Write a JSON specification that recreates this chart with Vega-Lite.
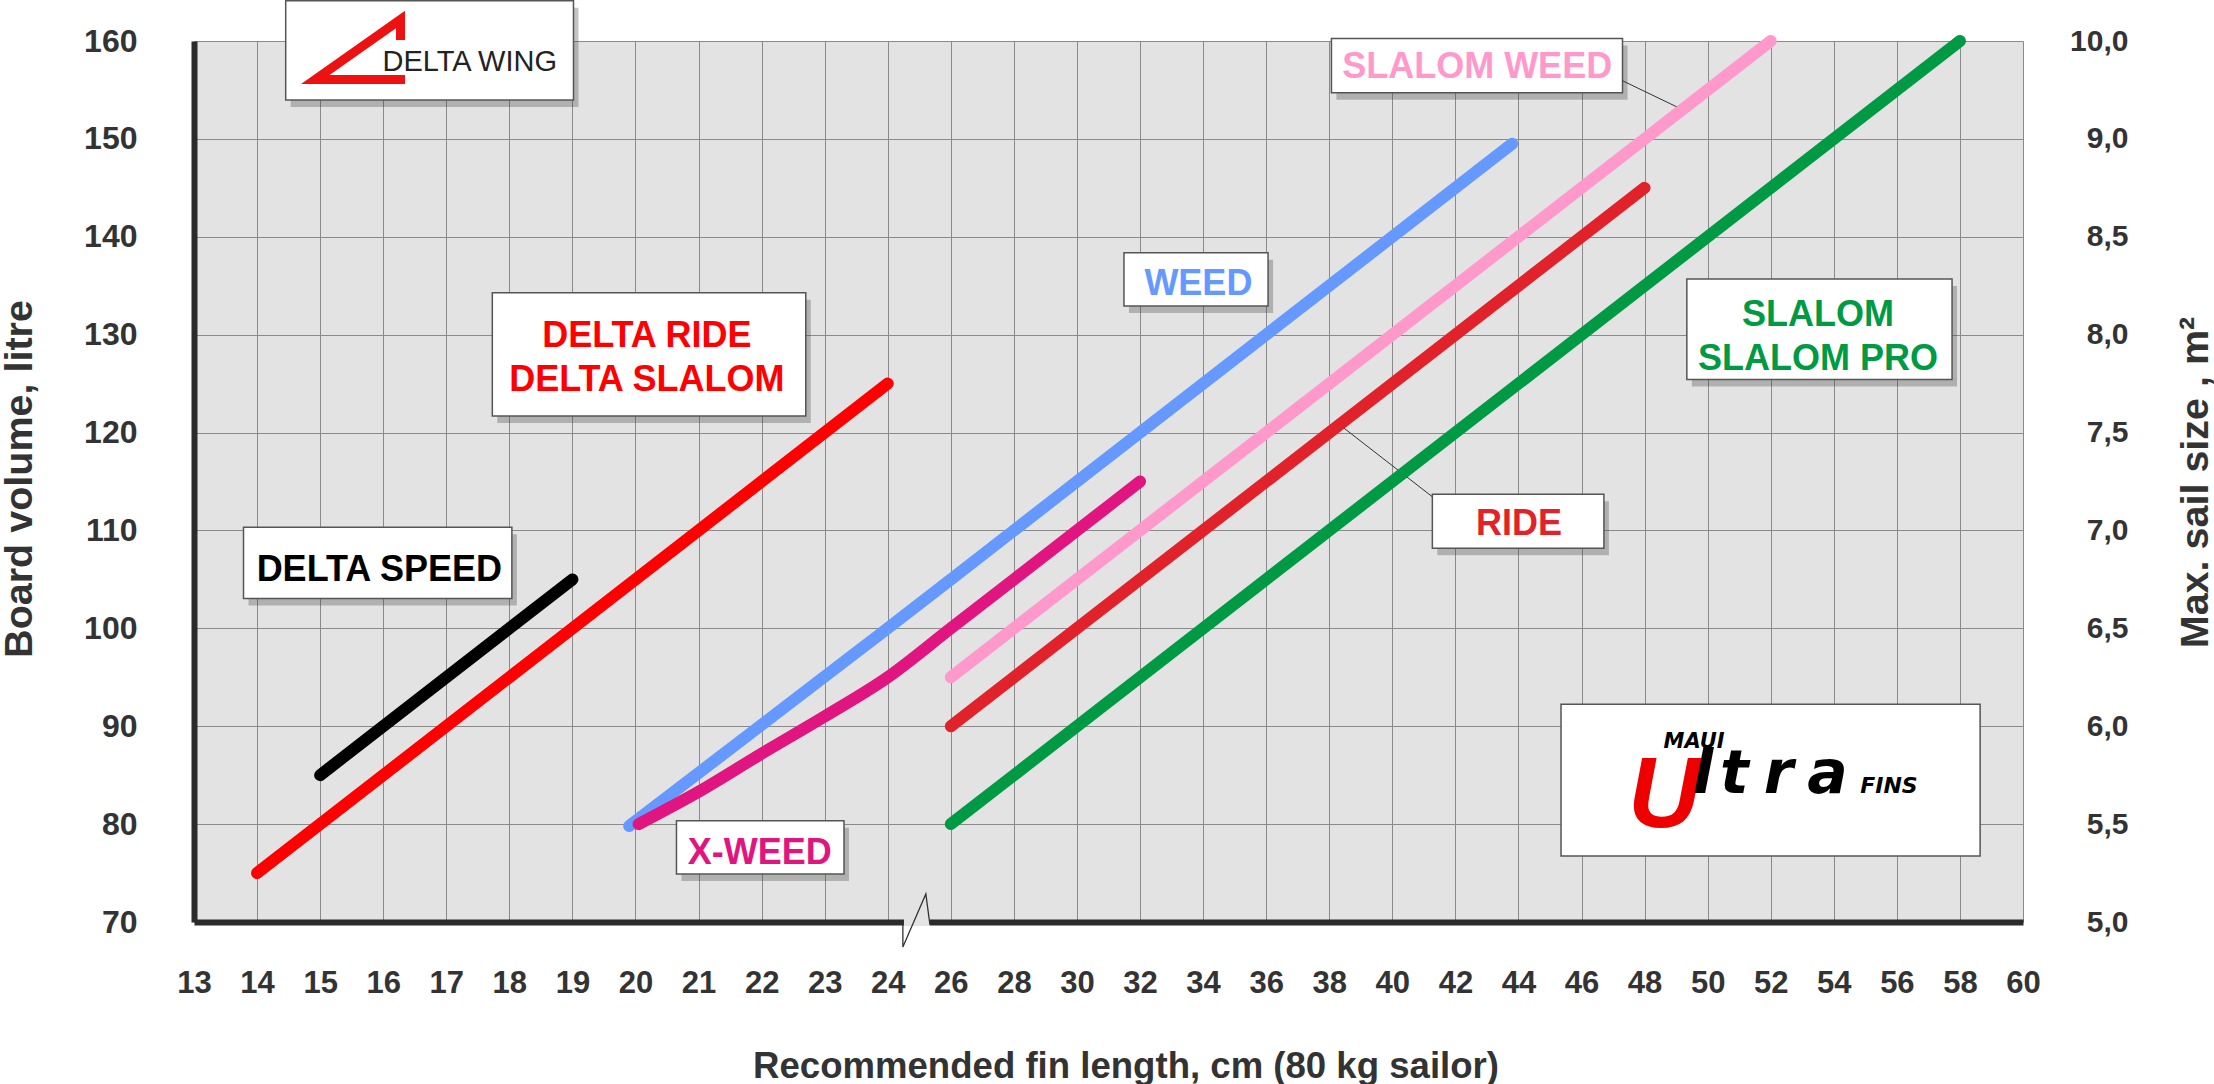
{
 "$schema": "https://vega.github.io/schema/vega-lite/v6.json",
 "width": 1829,
 "height": 881,
 "autosize": {"type": "none"},
 "padding": {"left": 194, "top": 41, "right": 191, "bottom": 162},
 "background": "white",
 "config": {"view": {"fill": "#e3e3e3", "stroke": null}, "font": "Liberation Sans"},
 "datasets": {
  "lines": [
   {"series": "DELTA SPEED", "fin": 15, "vol": 85}, {"series": "DELTA SPEED", "fin": 19, "vol": 105},
   {"series": "DELTA RIDE", "fin": 14, "vol": 75}, {"series": "DELTA RIDE", "fin": 24, "vol": 125},
   {"series": "WEED", "fin": 19.9, "vol": 79.8}, {"series": "WEED", "fin": 24, "vol": 100}, {"series": "WEED", "fin": 26, "vol": 105}, {"series": "WEED", "fin": 43.8, "vol": 149.5},
   {"series": "X-WEED", "fin": 20.05, "vol": 80}, {"series": "X-WEED", "fin": 21, "vol": 83.3}, {"series": "X-WEED", "fin": 22, "vol": 87.2}, {"series": "X-WEED", "fin": 23, "vol": 91}, {"series": "X-WEED", "fin": 24, "vol": 95}, {"series": "X-WEED", "fin": 26, "vol": 100}, {"series": "X-WEED", "fin": 28, "vol": 105}, {"series": "X-WEED", "fin": 30, "vol": 110}, {"series": "X-WEED", "fin": 32, "vol": 115},
   {"series": "SLALOM WEED", "fin": 26, "vol": 95}, {"series": "SLALOM WEED", "fin": 52, "vol": 160},
   {"series": "RIDE", "fin": 26, "vol": 90}, {"series": "RIDE", "fin": 48, "vol": 145},
   {"series": "SLALOM", "fin": 26, "vol": 80}, {"series": "SLALOM", "fin": 58, "vol": 160}
  ],
  "boxes": [
   {"name": "DELTA WING", "fin": 14.454, "fin2": 19.017, "vol": 164.1, "vol2": 153.96},
   {"name": "DELTA RIDE", "fin": 17.73, "fin2": 22.7, "vol": 134.28, "vol2": 121.69},
   {"name": "DELTA SPEED", "fin": 13.785, "fin2": 18.04, "vol": 110.32, "vol2": 103.06},
   {"name": "WEED", "fin": 31.49, "fin2": 36.06, "vol": 138.37, "vol2": 132.92},
   {"name": "X-WEED", "fin": 20.65, "fin2": 23.306, "vol": 80.35, "vol2": 74.9},
   {"name": "SLALOM WEED", "fin": 38.07, "fin2": 47.3, "vol": 160.26, "vol2": 154.71},
   {"name": "RIDE", "fin": 41.27, "fin2": 46.71, "vol": 113.69, "vol2": 108.17},
   {"name": "SLALOM", "fin": 49.34, "fin2": 57.75, "vol": 135.68, "vol2": 125.41},
   {"name": "ULTRA", "fin": 45.35, "fin2": 58.64, "vol": 92.24, "vol2": 76.74}
  ],
  "labels": [
   {"series": "DELTA RIDE", "text": "DELTA RIDE", "fin": 20.18, "vol": 128.76},
   {"series": "DELTA RIDE", "text": "DELTA SLALOM", "fin": 20.18, "vol": 124.27},
   {"series": "DELTA SPEED", "text": "DELTA SPEED", "fin": 15.938, "vol": 104.86},
   {"series": "WEED", "text": "WEED", "fin": 33.85, "vol": 134.05},
   {"series": "X-WEED", "text": "X-WEED", "fin": 21.971, "vol": 75.92},
   {"series": "SLALOM WEED", "text": "SLALOM WEED", "fin": 42.69, "vol": 156.18},
   {"series": "RIDE", "text": "RIDE", "fin": 44.02, "vol": 109.53},
   {"series": "SLALOM", "text": "SLALOM", "fin": 53.5, "vol": 130.88},
   {"series": "SLALOM", "text": "SLALOM PRO", "fin": 53.5, "vol": 126.38}
  ],
  "leaders": [
   {"fin": 47.3, "vol": 155.94, "fin2": 49.12, "vol2": 153.12},
   {"fin": 41.27, "vol": 113.44, "fin2": 38.34, "vol2": 120.77}
  ],
  "deltaLogo": [
   {"order": 1, "fin": 16.274, "vol": 160.09},
   {"order": 2, "fin": 16.274, "vol": 162.2},
   {"order": 3, "fin": 14.922, "vol": 156.06},
   {"order": 4, "fin": 16.346, "vol": 156.06}
  ],
  "logoText": [
   {"part": "delta", "text": "DELTA WING", "fin": 17.372, "vol": 156.96},
   {"part": "maui", "text": "MAUI", "fin": 49.57, "vol": 87.77},
   {"part": "u", "text": "U", "fin": 48.62, "vol": 79.7},
   {"part": "ltra", "text": "l", "fin": 49.85, "vol": 83.18},
   {"part": "ltra", "text": "t", "fin": 50.85, "vol": 83.18},
   {"part": "ltra", "text": "r", "fin": 52.25, "vol": 83.18},
   {"part": "ltra", "text": "a", "fin": 53.8, "vol": 83.18},
   {"part": "fins", "text": "FINS", "fin": 55.75, "vol": 83.18}
  ],
  "breakGap": [{"fin": 24.514, "fin2": 25.338, "vol": 70.41, "vol2": 69.59}],
  "breakLine": [
   {"order": 1, "fin": 24.479, "vol": 70.2},
   {"order": 2, "fin": 24.479, "vol": 67.45},
   {"order": 3, "fin": 25.208, "vol": 72.86},
   {"order": 4, "fin": 25.338, "vol": 69.69}
  ]
 },
 "resolve": {"scale": {"x": "independent"}, "axis": {"x": "independent", "y": "independent"}},
 "layer": [
  {
   "mark": {"type": "rule", "opacity": 0},
   "encoding": {
    "x": {"datum": 0, "type": "quantitative", "scale": {"domain": [0, 29], "nice": false, "zero": false},
     "axis": {"orient": "bottom", "values": [0, 1, 2, 3, 4, 5, 6, 7, 8, 9, 10, 11, 12, 13, 14, 15, 16, 17, 18, 19, 20, 21, 22, 23, 24, 25, 26, 27, 28, 29],
      "labelExpr": "datum.value < 12 ? format(datum.value + 13, 'd') : format(26 + (datum.value - 12) * 2, 'd')",
      "title": "Recommended fin length, cm (80 kg sailor)", "titleFontSize": 36.6, "titleFontWeight": "bold", "titleColor": "#333333",
      "titleX": 931.5, "titleY": 155, "titleBaseline": "alphabetic", "titleAlign": "center",
      "labelFontSize": 31, "labelFontWeight": "bold", "labelColor": "#333333", "labelPadding": 46, "labelFlush": false, "labelOverlap": false,
      "ticks": false, "tickSize": 0, "domainColor": "#2b2b2b", "domainWidth": 6, "grid": true, "gridColor": "#8a8a8a", "gridWidth": 1}}
   }
  },
  {
   "data": {"name": "boxes"},
   "transform": [{"filter": "datum.name != 'ULTRA'"}],
   "mark": {"type": "rect", "fill": "#3c3c3c", "opacity": 0.3, "xOffset": 5, "x2Offset": 5, "yOffset": 7, "y2Offset": 7},
   "encoding": {
    "x": {"field": "fin", "type": "quantitative", "scale": {"domain": [13, 24, 26, 60], "range": [0, 693.76, 756.83, 1829], "nice": false, "zero": false}, "axis": null},
    "x2": {"field": "fin2"},
    "y": {"field": "vol", "type": "quantitative", "scale": {"domain": [70, 160], "nice": false, "zero": false}, "axis": null},
    "y2": {"field": "vol2"}
   }
  },
  {
   "data": {"name": "boxes"},
   "mark": {"type": "rect", "fill": "white", "stroke": "#555555", "strokeWidth": 1.5},
   "encoding": {
    "x": {"field": "fin", "type": "quantitative", "scale": {"domain": [13, 24, 26, 60], "range": [0, 693.76, 756.83, 1829], "nice": false, "zero": false}, "axis": null},
    "x2": {"field": "fin2"},
    "y": {"field": "vol", "type": "quantitative", "scale": {"domain": [70, 160], "nice": false, "zero": false}, "axis": null},
    "y2": {"field": "vol2"}
   }
  },
  {
   "data": {"name": "leaders"},
   "mark": {"type": "rule", "color": "#333333", "strokeWidth": 1},
   "encoding": {
    "x": {"field": "fin", "type": "quantitative", "scale": {"domain": [13, 24, 26, 60], "range": [0, 693.76, 756.83, 1829], "nice": false, "zero": false}, "axis": null},
    "x2": {"field": "fin2"},
    "y": {"field": "vol", "type": "quantitative", "scale": {"domain": [70, 160], "nice": false, "zero": false}, "axis": null},
    "y2": {"field": "vol2"}
   }
  },
  {
   "data": {"name": "lines"},
   "mark": {"type": "line", "strokeWidth": 12, "strokeCap": "round", "strokeJoin": "round", "interpolate": "monotone"},
   "encoding": {
    "x": {"field": "fin", "type": "quantitative", "scale": {"domain": [13, 24, 26, 60], "range": [0, 693.76, 756.83, 1829], "nice": false, "zero": false}, "axis": null},
    "y": {"field": "vol", "type": "quantitative", "scale": {"domain": [70, 160], "nice": false, "zero": false},
     "axis": {"orient": "left", "values": [70, 80, 90, 100, 110, 120, 130, 140, 150, 160],
      "title": "Board volume, litre", "titleFontSize": 39.5, "titleFontWeight": "bold", "titleColor": "#333333",
      "titleX": -163, "titleY": 437.5, "titleAngle": 270, "titleBaseline": "alphabetic", "titleAlign": "center",
      "labelFontSize": 32, "labelFontWeight": "bold", "labelColor": "#333333", "labelPadding": 57, "labelFlush": false, "labelOverlap": false,
      "ticks": false, "tickSize": 0, "domainColor": "#2b2b2b", "domainWidth": 6, "grid": true, "gridColor": "#8a8a8a", "gridWidth": 1}},
    "color": {"field": "series", "type": "nominal",
     "scale": {"domain": ["DELTA SPEED", "DELTA RIDE", "WEED", "X-WEED", "SLALOM WEED", "RIDE", "SLALOM"], "range": ["#000000", "#ff0000", "#6699ff", "#e0157f", "#ff99cc", "#e2222a", "#009944"]},
     "legend": null}
   }
  },
  {
   "data": {"name": "labels"},
   "mark": {"type": "text", "fontSize": 36, "fontWeight": "bold", "align": "center", "baseline": "alphabetic", "font": "Liberation Sans"},
   "encoding": {
    "x": {"field": "fin", "type": "quantitative", "scale": {"domain": [13, 24, 26, 60], "range": [0, 693.76, 756.83, 1829], "nice": false, "zero": false}, "axis": null},
    "y": {"field": "vol", "type": "quantitative", "scale": {"domain": [70, 160], "nice": false, "zero": false},
     "axis": {"orient": "right", "values": [70, 80, 90, 100, 110, 120, 130, 140, 150, 160],
      "labelExpr": "datum.value == 160 ? '10,0' : replace(format(5 + (datum.value - 70) / 20, '.1f'), '.', ',')",
      "title": "Max. sail size , m²", "titleFontSize": 39.5, "titleFontWeight": "bold", "titleColor": "#333333",
      "titleX": 184, "titleY": 441, "titleAngle": 270, "titleBaseline": "alphabetic", "titleAlign": "center",
      "labelFontSize": 30, "labelFontWeight": "bold", "labelColor": "#333333", "labelAlign": "right", "labelPadding": 105, "labelFlush": false, "labelOverlap": false,
      "ticks": false, "tickSize": 0, "domain": false, "grid": false}},
    "text": {"field": "text"},
    "color": {"field": "series", "type": "nominal",
     "scale": {"domain": ["DELTA SPEED", "DELTA RIDE", "WEED", "X-WEED", "SLALOM WEED", "RIDE", "SLALOM"], "range": ["#000000", "#ff0000", "#6699ff", "#e0157f", "#ff99cc", "#e2222a", "#009944"]},
     "legend": null}
   }
  },
  {
   "data": {"name": "deltaLogo"},
   "mark": {"type": "line", "color": "#ee1111", "strokeWidth": 9, "strokeJoin": "miter", "strokeMiterLimit": 10, "strokeCap": "butt"},
   "encoding": {
    "x": {"field": "fin", "type": "quantitative", "scale": {"domain": [13, 24, 26, 60], "range": [0, 693.76, 756.83, 1829], "nice": false, "zero": false}, "axis": null},
    "y": {"field": "vol", "type": "quantitative", "scale": {"domain": [70, 160], "nice": false, "zero": false}, "axis": null},
    "order": {"field": "order", "type": "quantitative"}
   }
  },
  {
   "data": {"name": "logoText"},
   "transform": [{"filter": "datum.part == 'delta'"}],
   "mark": {"type": "text", "fontSize": 29, "fontWeight": "normal", "color": "#222222", "align": "center", "baseline": "alphabetic", "font": "Liberation Sans"},
   "encoding": {
    "x": {"field": "fin", "type": "quantitative", "scale": {"domain": [13, 24, 26, 60], "range": [0, 693.76, 756.83, 1829], "nice": false, "zero": false}, "axis": null},
    "y": {"field": "vol", "type": "quantitative", "scale": {"domain": [70, 160], "nice": false, "zero": false}, "axis": null},
    "text": {"field": "text"}
   }
  },
  {
   "data": {"name": "logoText"},
   "transform": [{"filter": "datum.part == 'maui'"}],
   "mark": {"type": "text", "fontSize": 21, "fontWeight": "bold", "fontStyle": "italic", "color": "#000000", "align": "center", "baseline": "alphabetic", "font": "DejaVu Sans"},
   "encoding": {
    "x": {"field": "fin", "type": "quantitative", "scale": {"domain": [13, 24, 26, 60], "range": [0, 693.76, 756.83, 1829], "nice": false, "zero": false}, "axis": null},
    "y": {"field": "vol", "type": "quantitative", "scale": {"domain": [70, 160], "nice": false, "zero": false}, "axis": null},
    "text": {"field": "text"}
   }
  },
  {
   "data": {"name": "logoText"},
   "transform": [{"filter": "datum.part == 'u'"}],
   "mark": {"type": "text", "fontSize": 100, "fontWeight": "bold", "fontStyle": "italic", "color": "#ee0000", "align": "center", "baseline": "alphabetic", "font": "Liberation Sans"},
   "encoding": {
    "x": {"field": "fin", "type": "quantitative", "scale": {"domain": [13, 24, 26, 60], "range": [0, 693.76, 756.83, 1829], "nice": false, "zero": false}, "axis": null},
    "y": {"field": "vol", "type": "quantitative", "scale": {"domain": [70, 160], "nice": false, "zero": false}, "axis": null},
    "text": {"field": "text"}
   }
  },
  {
   "data": {"name": "logoText"},
   "transform": [{"filter": "datum.part == 'ltra'"}],
   "mark": {"type": "text", "fontSize": 60, "fontWeight": "bold", "fontStyle": "italic", "color": "#000000", "align": "center", "baseline": "alphabetic", "font": "DejaVu Sans"},
   "encoding": {
    "x": {"field": "fin", "type": "quantitative", "scale": {"domain": [13, 24, 26, 60], "range": [0, 693.76, 756.83, 1829], "nice": false, "zero": false}, "axis": null},
    "y": {"field": "vol", "type": "quantitative", "scale": {"domain": [70, 160], "nice": false, "zero": false}, "axis": null},
    "text": {"field": "text"}
   }
  },
  {
   "data": {"name": "logoText"},
   "transform": [{"filter": "datum.part == 'fins'"}],
   "mark": {"type": "text", "fontSize": 22, "fontWeight": "bold", "fontStyle": "italic", "color": "#000000", "align": "center", "baseline": "alphabetic", "font": "DejaVu Sans"},
   "encoding": {
    "x": {"field": "fin", "type": "quantitative", "scale": {"domain": [13, 24, 26, 60], "range": [0, 693.76, 756.83, 1829], "nice": false, "zero": false}, "axis": null},
    "y": {"field": "vol", "type": "quantitative", "scale": {"domain": [70, 160], "nice": false, "zero": false}, "axis": null},
    "text": {"field": "text"}
   }
  },
  {
   "data": {"name": "breakGap"},
   "mark": {"type": "rect", "fill": "#e3e3e3"},
   "encoding": {
    "x": {"field": "fin", "type": "quantitative", "scale": {"domain": [13, 24, 26, 60], "range": [0, 693.76, 756.83, 1829], "nice": false, "zero": false}, "axis": null},
    "x2": {"field": "fin2"},
    "y": {"field": "vol", "type": "quantitative", "scale": {"domain": [70, 160], "nice": false, "zero": false}, "axis": null},
    "y2": {"field": "vol2"}
   }
  },
  {
   "data": {"name": "breakLine"},
   "mark": {"type": "line", "color": "#333333", "strokeWidth": 1.3},
   "encoding": {
    "x": {"field": "fin", "type": "quantitative", "scale": {"domain": [13, 24, 26, 60], "range": [0, 693.76, 756.83, 1829], "nice": false, "zero": false}, "axis": null},
    "y": {"field": "vol", "type": "quantitative", "scale": {"domain": [70, 160], "nice": false, "zero": false}, "axis": null},
    "order": {"field": "order", "type": "quantitative"}
   }
  }
 ]
}
